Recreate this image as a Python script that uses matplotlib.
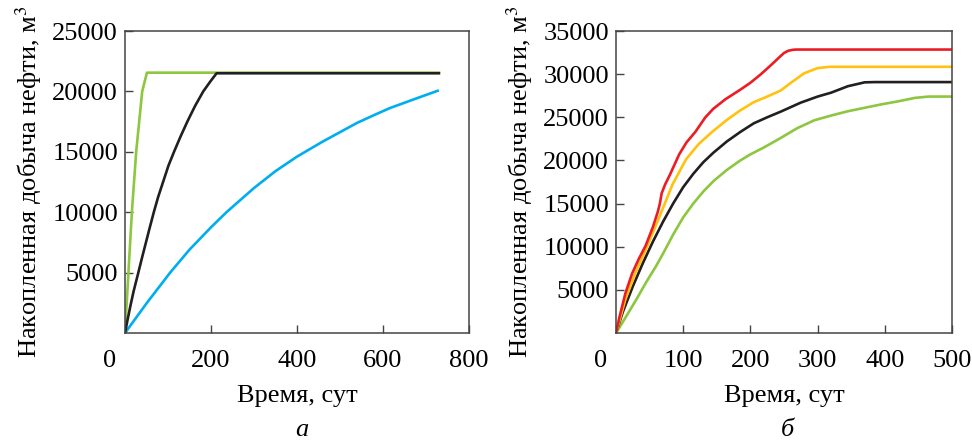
import matplotlib
matplotlib.use('Agg')
import matplotlib.pyplot as plt
from matplotlib.transforms import ScaledTranslation

plt.rcParams['font.family'] = ['Liberation Serif', 'DejaVu Serif']
plt.rcParams['mathtext.fontset'] = 'stix'

# ---- (а) ----
t_green_a = [0, 8, 16, 26, 40, 51, 730]
q_green_a = [0, 5000, 10000, 15000, 20000, 21550, 21550]

t_black_a = [0, 6, 12, 20, 31, 39, 48, 57, 67, 77, 89, 101, 114, 129, 145, 163, 182, 198, 213, 730]
q_black_a = [0, 1100, 2150, 3450, 5000, 6150, 7400, 8650, 10000, 11250, 12550, 13850, 15000, 16250, 17500,
             18800, 20000, 20800, 21500, 21500]

t_blue_a = [0, 50, 105, 150, 200, 236, 300, 350, 400, 460, 540, 580, 616, 680, 727]
q_blue_a = [0, 2450, 5000, 6900, 8750, 10000, 12000, 13400, 14600, 15850, 17400, 18050, 18620, 19450, 20050]

# ---- (б) ----
t_red_b = [0, 5, 14, 24, 34, 44, 55, 62, 65, 68, 73, 80, 94, 105, 118, 133, 145, 163, 185, 200, 215, 230, 245,
           250, 256, 263, 268, 500]
q_red_b = [0, 1800, 4600, 6900, 8600, 10100, 12300, 14000, 14900, 16200, 17200, 18300, 20700, 22100, 23300, 25000,
           26000, 27100, 28200, 29000, 29950, 31000, 32100, 32450, 32700, 32820, 32850, 32850]

t_yel_b = [0, 14, 29, 44, 59, 69, 84, 104, 123, 143, 165, 185, 205, 225, 245, 262, 280, 300, 318, 500]
q_yel_b = [0, 3900, 7000, 9600, 12400, 14300, 17200, 20100, 21900, 23300, 24700, 25800, 26750, 27400, 28100,
           29100, 30100, 30700, 30850, 30850]

t_blk_b = [0, 10, 25, 40, 55, 70, 85, 100, 115, 130, 145, 165, 185, 205, 225, 245, 275, 300, 320, 345, 370, 385, 500]
q_blk_b = [0, 2400, 5400, 8100, 10600, 12900, 15000, 16900, 18450, 19800, 20900, 22200, 23300, 24300, 25000,
           25650, 26700, 27400, 27850, 28600, 29050, 29080, 29080]

t_grn_b = [0, 15, 30, 45, 60, 70, 85, 100, 115, 130, 145, 165, 185, 200, 220, 245, 270, 295, 320, 345, 370, 395,
           420, 445, 465, 500]
q_grn_b = [0, 1900, 3850, 5900, 7800, 9200, 11400, 13400, 15000, 16400, 17600, 18900, 20000, 20700, 21500, 22600,
           23750, 24650, 25200, 25700, 26100, 26500, 26850, 27250, 27400, 27400]

GREEN = '#8dc63f'
BLUE = '#00aeef'
BLACK = '#231f20'
RED = '#ed1c24'
YELLOW = '#ffc20e'
lw = 1.9
fs = 19

fig = plt.figure(figsize=(9.72, 4.41), dpi=100)
ax1 = fig.add_axes([125 / 972, 108 / 441, 344 / 972, 302 / 441])
ax2 = fig.add_axes([616 / 972, 108 / 441, 336 / 972, 302 / 441])

ax1.plot(t_blue_a, q_blue_a, color=BLUE, lw=lw)
ax1.plot(t_green_a, q_green_a, color=GREEN, lw=lw)
ax1.plot(t_black_a, q_black_a, color=BLACK, lw=lw)

ax2.plot(t_grn_b, q_grn_b, color=GREEN, lw=lw)
ax2.plot(t_blk_b, q_blk_b, color=BLACK, lw=lw)
ax2.plot(t_yel_b, q_yel_b, color=YELLOW, lw=lw)
ax2.plot(t_red_b, q_red_b, color=RED, lw=lw)


def style(ax, xmax, xstep, ymax):
    ax.set_xlim(0, xmax)
    ax.set_ylim(0, ymax)
    ax.set_xticks(range(0, xmax + 1, xstep))
    ax.set_yticks(range(5000, ymax + 1, 5000))
    ax.tick_params(direction='in', length=6, width=1, labelsize=fs, color='#444444')
    ax.tick_params(axis='x', pad=12)
    ax.tick_params(axis='y', pad=5)
    for s in ax.spines.values():
        s.set_linewidth(1.1)
        s.set_color('#444444')
    ax.set_xlabel('Время, сут', fontsize=fs, labelpad=9.5)
    ax.set_ylabel('Накопленная добыча нефти, м$^3$', fontsize=fs, labelpad=6)
    # "0" сдвинут левее угла осей
    lab0 = ax.get_xticklabels()[0]
    lab0.set_transform(lab0.get_transform() + ScaledTranslation(-0.15, 0, fig.dpi_scale_trans))


style(ax1, 800, 200, 25000)
style(ax2, 500, 100, 35000)

fig.text(302 / 972, 1 - 430 / 441, 'а', fontsize=fs, style='italic', ha='center', va='center')
fig.text(787 / 972, 1 - 430 / 441, 'б', fontsize=fs, style='italic', ha='center', va='center')

fig.savefig('out.png', dpi=100)
